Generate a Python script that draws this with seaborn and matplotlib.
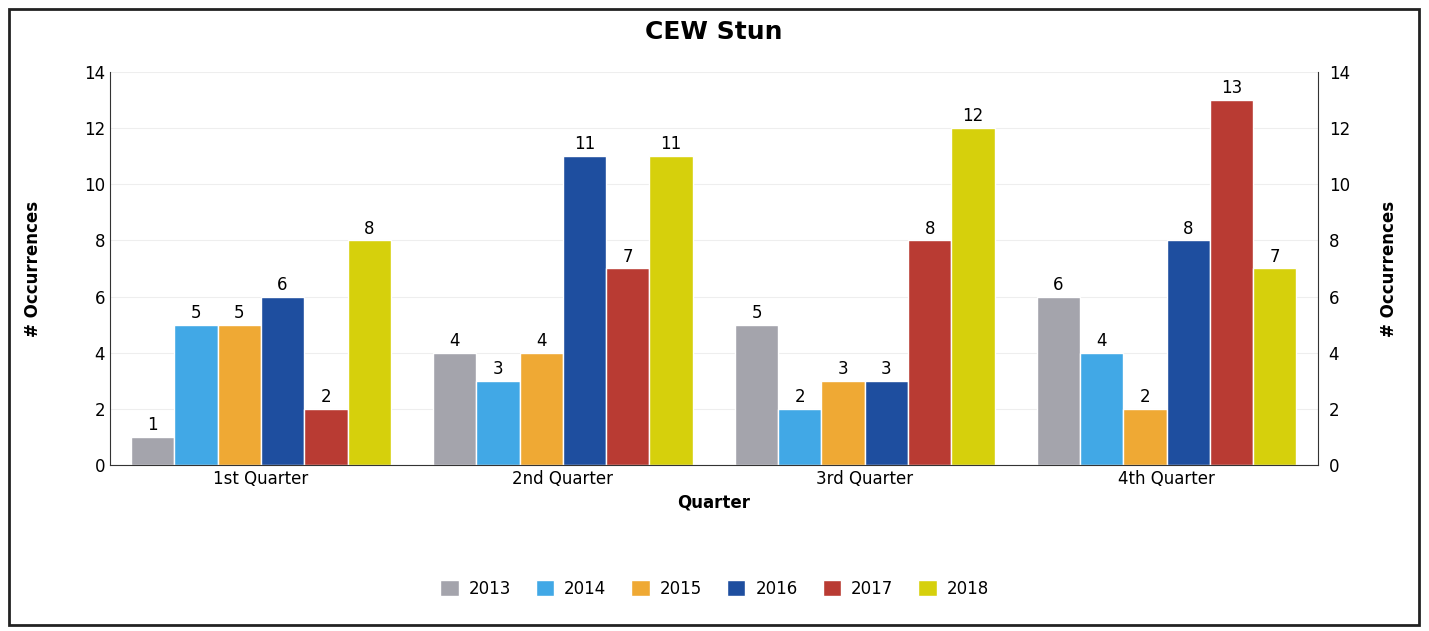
import numpy as np
import pandas as pd
import matplotlib
matplotlib.use("Agg")
import matplotlib.pyplot as plt
import seaborn as sns
from matplotlib.patches import Rectangle

# data
quarters = ["1st Quarter", "2nd Quarter", "3rd Quarter", "4th Quarter"]
years = ["2013", "2014", "2015", "2016", "2017", "2018"]
counts = {
    "2013": [1, 4, 5, 6],
    "2014": [5, 3, 2, 4],
    "2015": [5, 4, 3, 2],
    "2016": [6, 11, 3, 8],
    "2017": [2, 7, 8, 13],
    "2018": [8, 11, 12, 7],
}
colors = ["#A4A4AC", "#41A8E6", "#EFA934", "#1E4E9F", "#B93B33", "#D6D00C"]

rows = []
for yr in years:
    for q, v in zip(quarters, counts[yr]):
        rows.append({"Quarter": q, "Year": yr, "Count": v})
df = pd.DataFrame(rows)

sns.set_style("white")
plt.rcParams["font.family"] = ["DejaVu Sans"]
plt.rcParams["text.color"] = "black"
plt.rcParams["axes.labelcolor"] = "black"
plt.rcParams["xtick.color"] = "black"
plt.rcParams["ytick.color"] = "black"

fig = plt.figure(figsize=(14.29, 6.31), dpi=100)
ax = fig.add_axes([0.077, 0.263, 0.845, 0.623])

sns.barplot(data=df, x="Quarter", y="Count", hue="Year", hue_order=years,
            palette=colors, width=0.86, edgecolor="white", linewidth=1,
            saturation=1, ax=ax)

for c in ax.containers:
    ax.bar_label(c, fmt="%d", padding=2, fontsize=12, color="black")

ax.set_ylim(0, 14)
ax.set_yticks(range(0, 15, 2))
ax.set_xlim(-0.5, 3.5)
ax.tick_params(axis="both", labelsize=12, length=0)
ax.set_xlabel("Quarter", fontsize=12, fontweight="bold")
ax.set_ylabel("# Occurrences", fontsize=12, fontweight="bold", labelpad=30)
ax.grid(axis="y", color="#EEEEEE", linewidth=0.8)
ax.set_axisbelow(True)
for side in ["top", "right"]:
    ax.spines[side].set_visible(False)
ax.spines["left"].set_color("#333333")
ax.spines["bottom"].set_color("#333333")

ax2 = ax.twinx()
ax2.set_ylim(0, 14)
ax2.set_yticks(range(0, 15, 2))
ax2.tick_params(axis="y", labelsize=12, length=0, pad=8)
ax2.set_ylabel("# Occurrences", fontsize=12, fontweight="bold", labelpad=22)
for side in ["top", "left", "bottom"]:
    ax2.spines[side].set_visible(False)
ax2.spines["right"].set_color("#333333")

ax.set_title("CEW Stun", fontsize=18, fontweight="bold", pad=24, color="black")

handles, labels = ax.get_legend_handles_labels()
ax.legend_.remove()
fig.legend(handles, labels, loc="center", bbox_to_anchor=(0.5, 0.067),
           ncol=6, frameon=False, fontsize=12, handlelength=1.1,
           handleheight=1.1, columnspacing=1.5, handletextpad=0.6)

# outer frame like the original
fig.patches.append(Rectangle((0.006, 0.01), 0.987, 0.975, transform=fig.transFigure,
                             fill=False, edgecolor="#222222", linewidth=2))

fig.savefig("out.png", dpi=100)
